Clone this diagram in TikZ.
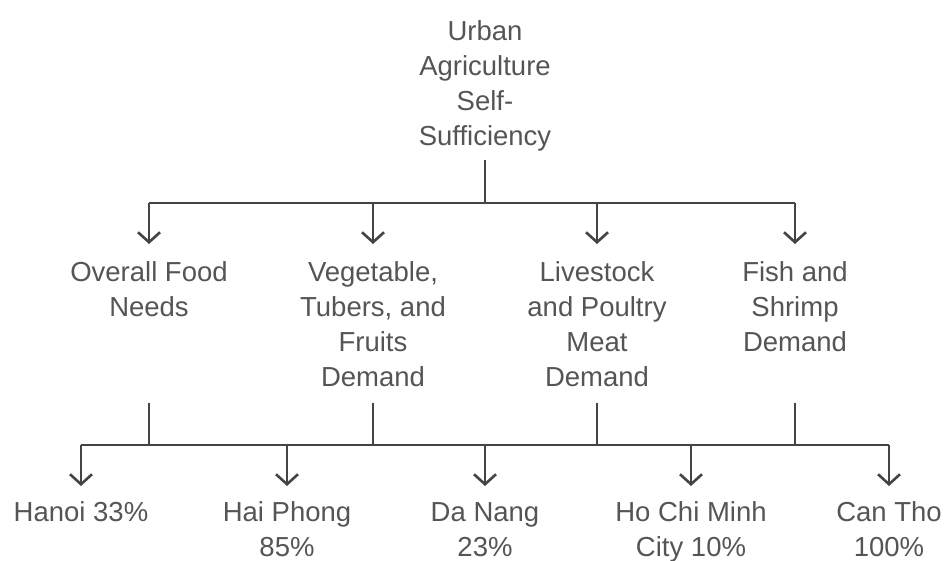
\documentclass[tikz,border=0pt]{standalone}
\usepackage{fontspec}
\setmainfont{Liberation Sans}
\usetikzlibrary{arrows.meta}
\definecolor{txtgray}{HTML}{555555}
\definecolor{linegray}{HTML}{444444}
\tikzset{
  lbl/.style={align=center, inner sep=0pt, anchor=north, text=txtgray,
    font=\fontsize{27.5}{35}\selectfont},
  conn/.style={draw=linegray, line width=2.6pt},
  arr/.style={conn, -{Straight Barb[length=10pt,width=22pt,line width=2.6pt]}},
}
\begin{document}
\begin{tikzpicture}[x=1pt,y=1pt]
\useasboundingbox (0,0) rectangle (944,-561);
% nodes
\node[lbl] (root) at (485,-20) {Urban\\Agriculture\\Self-\\Sufficiency};
\node[lbl] (n1) at (149,-261) {Overall Food\\Needs};
\node[lbl] (n2) at (373,-261) {Vegetable,\\Tubers, and\\Fruits\\Demand};
\node[lbl] (n3) at (597,-261) {Livestock\\and Poultry\\Meat\\Demand};
\node[lbl] (n4) at (795,-261) {Fish and\\Shrimp\\Demand};
\node[lbl] (c1) at (81,-501) {Hanoi 33\%};
\node[lbl] (c2) at (287,-501) {Hai Phong\\85\%};
\node[lbl] (c3) at (485,-502) {Da Nang\\23\%};
\node[lbl] (c4) at (691,-501) {Ho Chi Minh\\City 10\%};
\node[lbl] (c5) at (889,-501) {Can Tho\\100\%};
% helper coordinates
\coordinate (stem1) at (0,-160);
\coordinate (bus1) at (0,-203);
\coordinate (tip1) at (0,-244);
\coordinate (stem2) at (0,-403);
\coordinate (bus2) at (0,-445);
\coordinate (tip2) at (0,-486);
% level 1
\draw[conn] (root.south |- stem1) -- (root.south |- bus1);
\draw[conn] (n1.north |- bus1) -- (n4.north |- bus1);
\foreach \n in {n1,n2,n3,n4}{
  \draw[arr] (\n.north |- bus1) -- (\n.north |- tip1);
}
% level 2
\foreach \n in {n1,n2,n3,n4}{
  \draw[conn] (\n.south |- stem2) -- (\n.south |- bus2);
}
\draw[conn] (c1.north |- bus2) -- (c5.north |- bus2);
\foreach \c in {c1,c2,c3,c4,c5}{
  \draw[arr] (\c.north |- bus2) -- (\c.north |- tip2);
}
\end{tikzpicture}
\end{document}
